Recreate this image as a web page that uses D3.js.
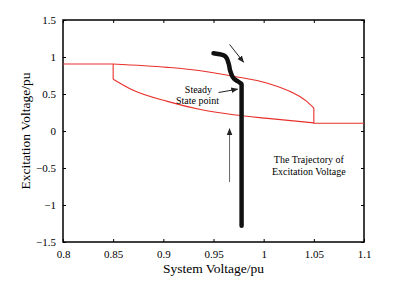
<!DOCTYPE html>
<html>
<head>
<meta charset="utf-8">
<script src="https://cdn.jsdelivr.net/npm/d3@7"></script>
<style>
  body { margin: 0; background: #fff; }
  text { font-family: "Liberation Serif", "Times New Roman", serif; fill: #000; }
</style>
</head>
<body>
<svg id="chart" width="393" height="295"></svg>
<script>
// limit curves (red)
var upperCurve = [[0.85, 0.905], [0.904, 0.86], [0.937, 0.815], [0.97, 0.74], [1.004, 0.645], [1.03, 0.51], [1.042, 0.41], [1.05, 0.31]];
var lowerCurve = [[0.85, 0.70], [0.87, 0.55], [0.904, 0.40], [0.937, 0.29], [0.97, 0.22], [1.004, 0.17], [1.05, 0.11]];
var leftLevel = 0.905, rightLevel = 0.105;
// trajectory of excitation voltage (black)
var trajectory = [[0.950, 1.05], [0.957, 1.035], [0.962, 1.005], [0.965, 0.915], [0.967, 0.8], [0.971, 0.7], [0.976, 0.655], [0.978, 0.63], [0.978, 0.3], [0.978, 0], [0.978, -0.5], [0.978, -1], [0.978, -1.28]];
var xTicks = [0.8, 0.85, 0.9, 0.95, 1, 1.05, 1.1];
var yTicks = [-1.5, -1, -0.5, 0, 0.5, 1, 1.5];

var margin = { top: 20, right: 29, bottom: 53, left: 63 },
    width = 393 - margin.left - margin.right,
    height = 295 - margin.top - margin.bottom;

var svg = d3.select("#chart")
    .append("g")
    .attr("transform", "translate(" + margin.left + "," + margin.top + ")");

var x = d3.scaleLinear().domain([0.8, 1.1]).range([0, width]);
var y = d3.scaleLinear().domain([-1.5, 1.5]).range([height, 0]);

var line = d3.line().x(function (d) { return x(d[0]); }).y(function (d) { return y(d[1]); });
var smooth = d3.line().curve(d3.curveMonotoneX).x(function (d) { return x(d[0]); }).y(function (d) { return y(d[1]); });

// axes with inward ticks on all sides
svg.append("g")
    .attr("transform", "translate(0," + height + ")")
    .call(d3.axisBottom(x).tickValues(xTicks).tickSizeInner(-3).tickSizeOuter(0).tickPadding(8).tickFormat(d3.format("")));
svg.append("g")
    .call(d3.axisTop(x).tickValues(xTicks).tickSizeInner(-3).tickSizeOuter(0).tickFormat(""));
svg.append("g")
    .call(d3.axisLeft(y).tickValues(yTicks).tickSizeInner(-3).tickSizeOuter(0).tickPadding(7).tickFormat(d3.format("")));
svg.append("g")
    .attr("transform", "translate(" + width + ",0)")
    .call(d3.axisRight(y).tickValues(yTicks).tickSizeInner(-3).tickSizeOuter(0).tickFormat(""));

svg.selectAll(".domain").remove();
svg.selectAll(".tick line").attr("stroke", "#000").attr("stroke-width", 1);
svg.selectAll(".tick text").style("font-size", "11px").attr("fill", "#000");

svg.append("rect")
    .attr("width", width).attr("height", height)
    .attr("fill", "none").attr("stroke", "#000").attr("stroke-width", 1.5);

// red limit curves
var red = "#e8302a";
var first = upperCurve[0], last = upperCurve[upperCurve.length - 1];
svg.append("path").datum([[0.8, leftLevel], first]).attr("d", line)
    .attr("fill", "none").attr("stroke", red).attr("stroke-width", 1.1);
svg.append("path").datum(upperCurve).attr("d", smooth)
    .attr("fill", "none").attr("stroke", red).attr("stroke-width", 1.1);
svg.append("path").datum([last, [last[0], rightLevel], [1.1, rightLevel]]).attr("d", line)
    .attr("fill", "none").attr("stroke", red).attr("stroke-width", 1.1);
svg.append("path").datum([first, lowerCurve[0]]).attr("d", line)
    .attr("fill", "none").attr("stroke", red).attr("stroke-width", 1.1);
svg.append("path").datum(lowerCurve).attr("d", smooth)
    .attr("fill", "none").attr("stroke", red).attr("stroke-width", 1.1);

// black trajectory
svg.append("path").datum(trajectory).attr("d", d3.line().curve(d3.curveMonotoneY)
        .x(function (d) { return x(d[0]); }).y(function (d) { return y(d[1]); }))
    .attr("fill", "none").attr("stroke", "#111").attr("stroke-width", 4.5)
    .attr("stroke-linecap", "round").attr("stroke-linejoin", "round")
    .attr("stroke-dasharray", "1.2,0.4");

// arrows
var defs = d3.select("#chart").append("defs");
defs.append("marker").attr("id", "head").attr("viewBox", "0 0 10 10")
    .attr("refX", 9).attr("refY", 5).attr("markerWidth", 7).attr("markerHeight", 7)
    .attr("markerUnits", "userSpaceOnUse").attr("orient", "auto")
    .append("path").attr("d", "M0,1 L10,5 L0,9 Z").attr("fill", "#222");

function arrow(p0, p1, col) {
    svg.append("line")
        .attr("x1", x(p0[0])).attr("y1", y(p0[1]))
        .attr("x2", x(p1[0])).attr("y2", y(p1[1]))
        .attr("stroke", col).attr("stroke-width", 1)
        .attr("marker-end", "url(#head)");
}
arrow([0.966, 1.17], [0.98, 0.93], "#222");
arrow([0.955, 0.52], [0.974, 0.565], "#222");
arrow([0.966, -0.69], [0.966, 0.03], "#666");

// annotations
svg.append("text").attr("x", x(0.935)).attr("y", y(0.51)).attr("text-anchor", "middle")
    .style("font-size", "10px").text("Steady");
svg.append("text").attr("x", x(0.934)).attr("y", y(0.366)).attr("text-anchor", "middle")
    .style("font-size", "10px").text("State point");
svg.append("text").attr("x", x(1.045)).attr("y", y(-0.43)).attr("text-anchor", "middle")
    .style("font-size", "10px").text("The Trajectory of");
svg.append("text").attr("x", x(1.045)).attr("y", y(-0.6)).attr("text-anchor", "middle")
    .style("font-size", "10px").text("Excitation Voltage");

// axis titles
svg.append("text").attr("x", width / 2).attr("y", height + 31).attr("text-anchor", "middle")
    .style("font-size", "13.5px").text("System Voltage/pu");
svg.append("text").attr("transform", "rotate(-90)")
    .attr("x", -height / 2).attr("y", -33).attr("text-anchor", "middle")
    .style("font-size", "13.5px").text("Excitation Voltage/pu");
</script>
</body>
</html>
